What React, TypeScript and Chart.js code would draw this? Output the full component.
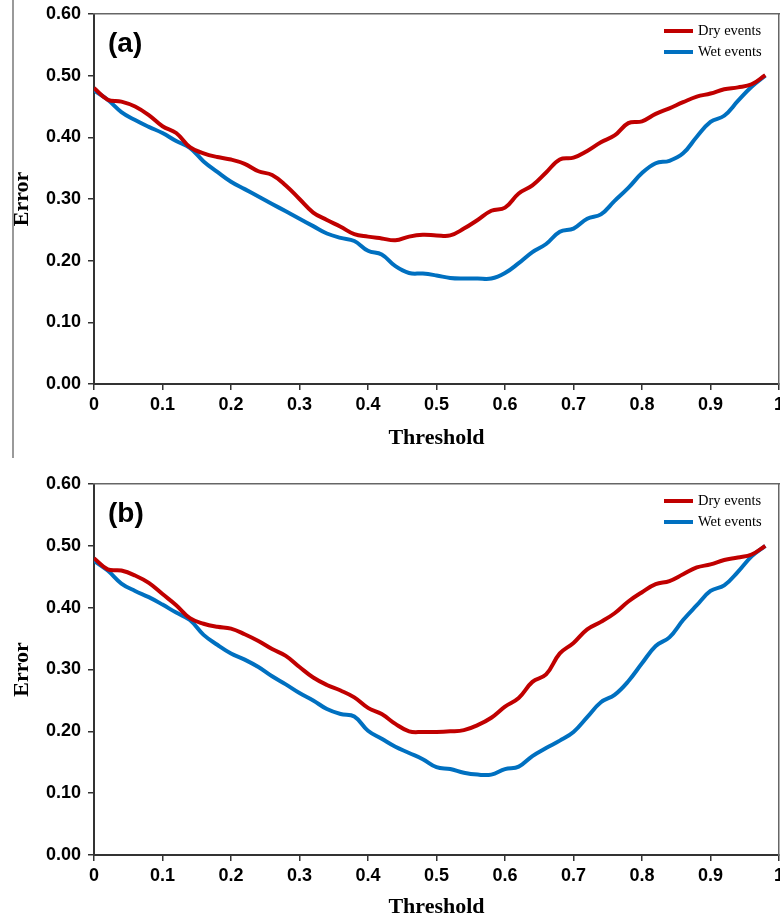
import React, { useEffect, useRef } from "react";
import { Chart, registerables } from "chart.js";

Chart.register(...registerables);

const thresholds = [
  0.0, 0.02, 0.04, 0.06, 0.08, 0.1, 0.12, 0.14, 0.16, 0.18,
  0.2, 0.22, 0.24, 0.26, 0.28, 0.3, 0.32, 0.34, 0.36, 0.38,
  0.4, 0.42, 0.44, 0.46, 0.48, 0.5, 0.52, 0.54, 0.56, 0.58,
  0.6, 0.62, 0.64, 0.66, 0.68, 0.7, 0.72, 0.74, 0.76, 0.78,
  0.8, 0.82, 0.84, 0.86, 0.88, 0.9, 0.92, 0.94, 0.96, 0.98,
];

const dryA = [
  0.48, 0.461, 0.458, 0.45, 0.436, 0.418, 0.407, 0.384, 0.374, 0.368,
  0.364, 0.357, 0.345, 0.339, 0.322, 0.3, 0.278, 0.266, 0.255, 0.243,
  0.239, 0.236, 0.233, 0.239, 0.242, 0.241, 0.241, 0.252, 0.266, 0.281,
  0.286, 0.309, 0.322, 0.343, 0.364, 0.367, 0.378, 0.392, 0.403, 0.423,
  0.426, 0.438, 0.447, 0.457, 0.466, 0.471, 0.478, 0.481, 0.486, 0.501,
];
const wetA = [
  0.476, 0.461, 0.441, 0.428, 0.417, 0.407, 0.394, 0.383, 0.361, 0.344,
  0.328, 0.316, 0.304, 0.292, 0.28, 0.268, 0.256, 0.244, 0.237, 0.232,
  0.216, 0.21, 0.191, 0.18, 0.179, 0.176, 0.172, 0.171, 0.171, 0.171,
  0.18, 0.196, 0.214, 0.227, 0.247, 0.252, 0.268, 0.275, 0.297, 0.318,
  0.342, 0.358, 0.362, 0.374, 0.401, 0.425, 0.435, 0.459, 0.482, 0.5,
];
const dryB = [
  0.48, 0.462, 0.46, 0.452, 0.44, 0.422, 0.404, 0.383, 0.374, 0.369,
  0.366, 0.357, 0.346, 0.333, 0.322, 0.304, 0.287, 0.275, 0.266, 0.255,
  0.238, 0.228, 0.212, 0.2, 0.199, 0.199, 0.2, 0.202, 0.21, 0.222,
  0.24, 0.254, 0.28, 0.292, 0.326, 0.343, 0.365, 0.377, 0.391, 0.41,
  0.425, 0.438, 0.443, 0.454, 0.465, 0.47, 0.477, 0.481, 0.486, 0.5,
];
const wetB = [
  0.476, 0.46, 0.439, 0.427, 0.417, 0.405, 0.392, 0.38, 0.356, 0.34,
  0.326, 0.316, 0.304, 0.289, 0.276, 0.262, 0.25, 0.236, 0.228, 0.224,
  0.201, 0.188, 0.175, 0.165, 0.155, 0.142, 0.139, 0.133, 0.13, 0.13,
  0.139, 0.143, 0.16, 0.173, 0.185, 0.199, 0.223, 0.247, 0.259, 0.281,
  0.31, 0.338, 0.352, 0.38, 0.404, 0.427, 0.436, 0.458, 0.483, 0.5,
];

const seriesNames = ["Dry events", "Wet events"];
const seriesColors = ["#C00000", "#0070C0"];
const xTickValues = [0, 0.1, 0.2, 0.3, 0.4, 0.5, 0.6, 0.7, 0.8, 0.9, 1];
const yTickValues = [0, 0.1, 0.2, 0.3, 0.4, 0.5, 0.6];
const panelLabels = ["(a)", "(b)"];
const xTitle = "Threshold";
const yTitle = "Error";

const SANS = "'Liberation Sans', Arial, sans-serif";
const SERIF = "'Liberation Serif', 'Times New Roman', serif";

function makeConfig(
  dry: number[],
  wet: number[],
  label: string,
  topPad: number,
  xAxisHeight: number,
  titleBottomPad: number
): any {
  const overlay = {
    id: "overlay",
    afterDatasetsDraw(chart: any) {
      const { ctx, chartArea } = chart;
      ctx.save();
      ctx.fillStyle = "#000";
      ctx.font = `bold 28px ${SANS}`;
      ctx.textAlign = "left";
      ctx.textBaseline = "middle";
      ctx.fillText(label, chartArea.left + 14, chartArea.top + 30.5);
      chart.data.datasets.forEach((ds: any, i: number) => {
        const y = chartArea.top + 17 + i * 21;
        ctx.strokeStyle = ds.borderColor;
        ctx.lineWidth = 4;
        ctx.beginPath();
        ctx.moveTo(chartArea.left + 570, y);
        ctx.lineTo(chartArea.left + 599, y);
        ctx.stroke();
        ctx.fillStyle = "#000";
        ctx.font = `14.5px ${SERIF}`;
        ctx.textAlign = "left";
        ctx.textBaseline = "middle";
        ctx.fillText(ds.label, chartArea.left + 604, y);
      });
      ctx.restore();
    },
  };

  return {
    type: "line",
    data: {
      labels: thresholds,
      datasets: [
        {
          label: seriesNames[0],
          data: thresholds.map((t, i) => ({ x: t, y: dry[i] })),
          borderColor: seriesColors[0],
          backgroundColor: seriesColors[0],
          borderWidth: 4,
          pointRadius: 0,
          tension: 0.4,
          fill: false,
        },
        {
          label: seriesNames[1],
          data: thresholds.map((t, i) => ({ x: t, y: wet[i] })),
          borderColor: seriesColors[1],
          backgroundColor: seriesColors[1],
          borderWidth: 4,
          pointRadius: 0,
          tension: 0.4,
          fill: false,
        },
      ],
    },
    options: {
      responsive: false,
      animation: false,
      events: [],
      layout: { padding: { top: topPad, right: 1, left: 0, bottom: 0 } },
      plugins: {
        legend: { display: false },
        tooltip: { enabled: false },
      },
      scales: {
        x: {
          type: "linear",
          position: "bottom",
          min: 0,
          max: 1,
          afterBuildTicks(scale: any) {
            scale.ticks = xTickValues.map((v) => ({ value: v }));
          },
          afterFit(scale: any) {
            scale.height = xAxisHeight;
            scale.paddingLeft = 0;
            scale.paddingRight = 0;
          },
          ticks: {
            color: "#000",
            font: { family: SANS, size: 18, weight: "bold" },
            padding: 4,
            maxRotation: 0,
            autoSkip: false,
            callback: (v: any) => String(Number(v)),
          },
          grid: {
            display: true,
            drawOnChartArea: false,
            drawTicks: true,
            tickLength: 6,
            color: "#333",
            lineWidth: 1.5,
          },
          border: { display: true, color: "#333", width: 2 },
          title: {
            display: true,
            text: xTitle,
            color: "#000",
            font: { family: SERIF, size: 22, weight: "bold" },
            padding: { top: 0, bottom: titleBottomPad },
          },
        },
        y: {
          type: "linear",
          position: "left",
          min: 0,
          max: 0.6,
          afterBuildTicks(scale: any) {
            scale.ticks = yTickValues.map((v) => ({ value: v }));
          },
          afterFit(scale: any) {
            scale.width = 94;
            scale.paddingTop = 0;
            scale.paddingBottom = 0;
          },
          ticks: {
            color: "#000",
            font: { family: SANS, size: 18, weight: "bold" },
            padding: 7,
            callback: (v: any) => Number(v).toFixed(2),
          },
          grid: {
            display: true,
            drawOnChartArea: false,
            drawTicks: true,
            tickLength: 6,
            color: "#333",
            lineWidth: 1.5,
          },
          border: { display: true, color: "#333", width: 2 },
          title: {
            display: true,
            text: yTitle,
            color: "#000",
            font: { family: SERIF, size: 22, weight: "bold" },
            padding: { top: 9, bottom: 0 },
          },
        },
        x2: {
          type: "linear",
          position: "top",
          min: 0,
          max: 1,
          ticks: { display: false },
          grid: { display: false, drawTicks: false },
          border: { display: true, color: "#666", width: 1.5 },
          afterFit(scale: any) {
            scale.height = 0;
            scale.paddingLeft = 0;
            scale.paddingRight = 0;
          },
        },
        y2: {
          type: "linear",
          position: "right",
          min: 0,
          max: 0.6,
          ticks: { display: false },
          grid: { display: false, drawTicks: false },
          border: { display: true, color: "#666", width: 1.5 },
          afterFit(scale: any) {
            scale.width = 0;
            scale.paddingTop = 0;
            scale.paddingBottom = 0;
          },
        },
      },
    },
    plugins: [overlay],
  };
}

export default function App() {
  const refA = useRef<HTMLCanvasElement | null>(null);
  const refB = useRef<HTMLCanvasElement | null>(null);

  useEffect(() => {
    const charts: Chart[] = [];
    if (refA.current) {
      charts.push(
        new Chart(refA.current, makeConfig(dryA, wetA, panelLabels[0], 14, 76, 8))
      );
    }
    if (refB.current) {
      charts.push(
        new Chart(refB.current, makeConfig(dryB, wetB, panelLabels[1], 24, 67, 1))
      );
    }
    return () => charts.forEach((c) => c.destroy());
  }, []);

  return (
    <div
      style={{
        position: "absolute",
        left: 0,
        top: 0,
        width: 780,
        height: 922,
        background: "#fff",
        overflow: "hidden",
      }}
    >
      <div
        style={{
          position: "absolute",
          left: 12,
          top: 0,
          width: 2,
          height: 458,
          background: "#9a9a9a",
        }}
      />
      <canvas
        ref={refA}
        width={780}
        height={460}
        style={{ position: "absolute", left: 0, top: 0, width: 780, height: 460 }}
      />
      <canvas
        ref={refB}
        width={780}
        height={462}
        style={{ position: "absolute", left: 0, top: 460, width: 780, height: 462 }}
      />
    </div>
  );
}
